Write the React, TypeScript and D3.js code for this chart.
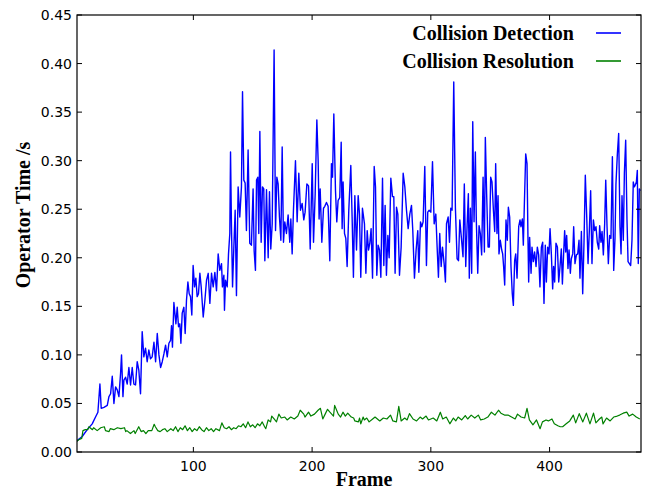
import React from 'react';
import * as d3 from 'd3';

// [frame, seconds]
const detection: [number, number][] = [
  [2, 0.011], [2.2, 0.012], [6.4, 0.016], [10.6, 0.023], [14.8, 0.029], [17.6, 0.036], [19.6, 0.041],
  [21.3, 0.07], [22.4, 0.045], [24.7, 0.046], [27.5, 0.048], [28.9, 0.057], [30.3, 0.06], [31.7, 0.078],
  [33.1, 0.05], [34.5, 0.067], [35.9, 0.064], [37.3, 0.057], [38.7, 0.081], [39.5, 0.1], [40.7, 0.057],
  [41.5, 0.074], [42.9, 0.077], [44.3, 0.07], [45.7, 0.087], [47.1, 0.069], [48.5, 0.087], [49.9, 0.07],
  [51.3, 0.069], [52.7, 0.093], [54.1, 0.084], [55.5, 0.06], [56.9, 0.124], [58.3, 0.098], [59.7, 0.107],
  [61.1, 0.093], [62.5, 0.105], [63.9, 0.096], [65.3, 0.098], [66.8, 0.113], [68.2, 0.093], [69.6, 0.122],
  [71, 0.1], [72.4, 0.087], [73.8, 0.093], [75.2, 0.101], [76.6, 0.11], [78, 0.098], [79.4, 0.112],
  [80.8, 0.115], [81.6, 0.13], [82.4, 0.108], [83.6, 0.154], [85.3, 0.132], [86.4, 0.149], [87.5, 0.129],
  [88.6, 0.132], [89.5, 0.112], [90.6, 0.143], [92, 0.149], [93.1, 0.122], [94.2, 0.156], [95.4, 0.175],
  [96.5, 0.163], [97.6, 0.16], [98.7, 0.141], [99.8, 0.192], [101, 0.17], [102.1, 0.179], [103.2, 0.16],
  [104.3, 0.163], [105.5, 0.184], [106.6, 0.17], [108.3, 0.139], [109.7, 0.156], [111.1, 0.177],
  [112.5, 0.184], [113.9, 0.153], [115.3, 0.184], [116.7, 0.17], [118.1, 0.185], [119.5, 0.166],
  [120.9, 0.204], [122.3, 0.187], [123.7, 0.194], [124.5, 0.17], [125.7, 0.182], [126.2, 0.146],
  [127.1, 0.177], [128.5, 0.17], [129.6, 0.204], [130.7, 0.225], [131.3, 0.309], [132.1, 0.232],
  [133, 0.17], [134.1, 0.211], [135.2, 0.249], [136.3, 0.161], [137.7, 0.273], [139.1, 0.242],
  [140.5, 0.273], [141.4, 0.371], [142.5, 0.28], [143.6, 0.277], [144.7, 0.228], [146.1, 0.311],
  [147.5, 0.215], [148.9, 0.213], [150.3, 0.271], [151.2, 0.207], [152.3, 0.187], [153.2, 0.28],
  [154.3, 0.283], [155.1, 0.225], [156, 0.33], [157.1, 0.216], [158.2, 0.273], [159.3, 0.271],
  [160.2, 0.197], [161.6, 0.27], [163, 0.2], [164.1, 0.268], [165.2, 0.209], [166.4, 0.235], [168, 0.414],
  [169.2, 0.228], [170.3, 0.283], [171.4, 0.276], [172.5, 0.242], [173.7, 0.218], [174.8, 0.314],
  [175.9, 0.216], [177, 0.237], [178.4, 0.225], [179.8, 0.244], [181.2, 0.216], [182.1, 0.24],
  [183.2, 0.204], [184.3, 0.249], [186, 0.3], [187.4, 0.237], [188.8, 0.287], [190.2, 0.249],
  [191.6, 0.256], [193, 0.239], [194.1, 0.247], [195.6, 0.276], [197, 0.274], [198.4, 0.209],
  [200.1, 0.297], [201.2, 0.216], [202.6, 0.266], [204, 0.342], [205.1, 0.3], [205.9, 0.24],
  [206.8, 0.271], [208.2, 0.216], [209.6, 0.251], [210.7, 0.253], [212.1, 0.257], [213.5, 0.253],
  [214.9, 0.197], [216.3, 0.297], [217.2, 0.283], [218.3, 0.348], [219.7, 0.269], [220.8, 0.237],
  [221.9, 0.259], [223.3, 0.262], [224.5, 0.319], [225.3, 0.23], [226.1, 0.278], [227.3, 0.225],
  [228.4, 0.22], [229.5, 0.191], [230.9, 0.249], [232.6, 0.295], [233.7, 0.242], [234.8, 0.18],
  [236, 0.264], [237.4, 0.208], [238.8, 0.264], [239.9, 0.245], [241, 0.18], [242.4, 0.251],
  [244.1, 0.235], [245.3, 0.184], [246.4, 0.228], [247.5, 0.208], [248.6, 0.215], [249.7, 0.23],
  [250.9, 0.179], [252.3, 0.294], [253.4, 0.273], [254.5, 0.182], [255.6, 0.213], [256.8, 0.208],
  [257.9, 0.18], [259.3, 0.282], [260.4, 0.192], [261.5, 0.254], [262.6, 0.182], [263.8, 0.223],
  [264.9, 0.2], [266.3, 0.282], [267.7, 0.263], [268.8, 0.263], [269.9, 0.184], [271.1, 0.252],
  [272.2, 0.245], [273.6, 0.182], [275, 0.211], [276.7, 0.287], [278.1, 0.273], [279.5, 0.249],
  [280.9, 0.23], [282.3, 0.245], [283.7, 0.254], [284.8, 0.228], [286.2, 0.179], [287.6, 0.208],
  [289, 0.228], [289.9, 0.185], [291.3, 0.237], [292.4, 0.232], [293.5, 0.237], [294.9, 0.294],
  [296.3, 0.192], [297.4, 0.247], [298.6, 0.249], [300, 0.247], [301.4, 0.299], [302.8, 0.235],
  [304.2, 0.245], [305.3, 0.211], [306.4, 0.18], [307.5, 0.225], [308.7, 0.191], [309.8, 0.211],
  [311.2, 0.194], [312.3, 0.175], [313.2, 0.235], [314.6, 0.242], [315.7, 0.216], [316.8, 0.251],
  [317.9, 0.249], [319.3, 0.381], [320.7, 0.251], [322.1, 0.199], [323.3, 0.197], [324.4, 0.239],
  [325.7, 0.221], [327.1, 0.201], [328.2, 0.276], [329.4, 0.191], [330.5, 0.232], [331.6, 0.266],
  [332.4, 0.179], [333.3, 0.251], [334.4, 0.184], [335.3, 0.34], [336.4, 0.237], [337.5, 0.309],
  [338.3, 0.239], [339.5, 0.184], [340.6, 0.233], [341.7, 0.225], [342.8, 0.203], [344, 0.283],
  [345.1, 0.206], [345.9, 0.324], [347, 0.266], [348.2, 0.211], [349.3, 0.211], [350.4, 0.283],
  [351.5, 0.278], [352.7, 0.249], [353.8, 0.227], [354.6, 0.297], [355.7, 0.225], [356.6, 0.264],
  [357.4, 0.204], [358.5, 0.218], [359.7, 0.208], [360.5, 0.204], [361.3, 0.191], [362.2, 0.172],
  [363.3, 0.239], [364.4, 0.218], [365.3, 0.252], [366.4, 0.242], [367.5, 0.191], [368.6, 0.163],
  [369.5, 0.151], [370.6, 0.197], [371.5, 0.204], [372.6, 0.179], [374, 0.232], [375.1, 0.239],
  [375.9, 0.232], [377.1, 0.24], [377.9, 0.213], [378.7, 0.252], [379.9, 0.307], [381, 0.297],
  [381.8, 0.221], [382.4, 0.175], [383.2, 0.221], [384.4, 0.184], [385.2, 0.211], [386.3, 0.196],
  [387.4, 0.206], [388.6, 0.191], [389.7, 0.211], [390.8, 0.203], [391.9, 0.17], [393.1, 0.211],
  [394.2, 0.216], [395.3, 0.153], [396.4, 0.213], [397.3, 0.175], [398.4, 0.211], [399.5, 0.204],
  [400.4, 0.23], [401.5, 0.204], [402.6, 0.168], [403.4, 0.191], [404.3, 0.175], [405.4, 0.215],
  [406.6, 0.211], [407.7, 0.175], [408.8, 0.191], [409.9, 0.209], [410.8, 0.173], [411.9, 0.206],
  [412.7, 0.228], [413.6, 0.206], [414.4, 0.223], [415.5, 0.189], [416.4, 0.208], [417.5, 0.184],
  [418.3, 0.199], [419.5, 0.204], [420.3, 0.232], [421.4, 0.194], [422.6, 0.203], [423.7, 0.204],
  [424.8, 0.218], [425.6, 0.179], [426.8, 0.227], [427.9, 0.163], [429, 0.216], [430.1, 0.285],
  [431.3, 0.242], [432.4, 0.194], [433.5, 0.228], [434.6, 0.269], [435.7, 0.194], [436.9, 0.239],
  [438, 0.228], [439.1, 0.232], [440.2, 0.216], [441.4, 0.209], [442.2, 0.233], [443.3, 0.216],
  [444.2, 0.227], [445.3, 0.203], [446.4, 0.235], [447.3, 0.28], [448.4, 0.232], [449.5, 0.194],
  [450.6, 0.223], [451.7, 0.22], [452.9, 0.304], [454, 0.187], [455.1, 0.22], [455.9, 0.276],
  [457.1, 0.307], [458.2, 0.328], [459.3, 0.232], [460.2, 0.204], [461, 0.264], [462.1, 0.218],
  [463, 0.287], [464.1, 0.321], [465.2, 0.239], [466.1, 0.196], [467.2, 0.194], [468.3, 0.192],
  [469.4, 0.218], [470.5, 0.278], [471.4, 0.273], [472.2, 0.275], [473.1, 0.278], [473.9, 0.29],
  [474.7, 0.194], [475.6, 0.271], [476.4, 0.269],
];

const resolution: [number, number][] = [
  [2, 0.011], [4, 0.013], [6, 0.014], [7, 0.022], [9, 0.023], [11, 0.023], [12, 0.026], [15, 0.023],
  [16, 0.025], [19, 0.022], [22, 0.025], [25, 0.026], [26, 0.022], [29, 0.021], [30, 0.024], [33, 0.023],
  [36, 0.025], [39, 0.024], [42, 0.025], [43, 0.021], [44, 0.022], [47, 0.019], [50, 0.022], [51, 0.019],
  [54, 0.026], [56, 0.021], [58, 0.022], [60, 0.019], [62, 0.022], [65, 0.022], [67, 0.0285], [68, 0.026],
  [70, 0.022], [72, 0.021], [74, 0.023], [76, 0.024], [78, 0.021], [81, 0.024], [83, 0.022], [85, 0.026],
  [87, 0.021], [89, 0.025], [91, 0.023], [93, 0.027], [95, 0.022], [97, 0.025], [99, 0.021], [101, 0.024],
  [103, 0.022], [105, 0.026], [107, 0.023], [109, 0.021], [111, 0.025], [113, 0.022], [115, 0.024],
  [117, 0.021], [119, 0.024], [122, 0.022], [124, 0.03], [126, 0.025], [128, 0.024], [130, 0.026],
  [132, 0.023], [134, 0.025], [136, 0.024], [138, 0.027], [140, 0.026], [142, 0.029], [144, 0.025],
  [146, 0.031], [148, 0.026], [150, 0.028], [152, 0.025], [154, 0.029], [156, 0.027], [158, 0.031],
  [160, 0.026], [161, 0.024], [163, 0.033], [165, 0.031], [166, 0.037], [168, 0.034], [170, 0.031],
  [172, 0.039], [174, 0.035], [177, 0.036], [179, 0.033], [182, 0.036], [185, 0.034], [188, 0.037],
  [190, 0.043], [193, 0.039], [194, 0.036], [197, 0.041], [199, 0.037], [202, 0.039], [205, 0.043],
  [207, 0.045], [209, 0.034], [211, 0.039], [213, 0.044], [215, 0.041], [218, 0.037], [219, 0.048],
  [221, 0.042], [222, 0.039], [224, 0.036], [226, 0.041], [228, 0.037], [230, 0.04], [233, 0.036],
  [235, 0.035], [236, 0.032], [239, 0.031], [240, 0.035], [241, 0.029], [243, 0.036], [244, 0.033],
  [246, 0.035], [248, 0.031], [251, 0.034], [253, 0.036], [257, 0.032], [260, 0.035], [263, 0.034],
  [266, 0.038], [268, 0.032], [271, 0.031], [273, 0.047], [275, 0.032], [278, 0.035], [280, 0.033],
  [282, 0.0395], [285, 0.034], [288, 0.032], [291, 0.036], [293, 0.034], [296, 0.037], [298, 0.033],
  [302, 0.035], [305, 0.032], [308, 0.041], [310, 0.034], [313, 0.036], [316, 0.029], [319, 0.035],
  [321, 0.032], [323, 0.036], [326, 0.033], [329, 0.0375], [331, 0.034], [334, 0.038], [337, 0.035],
  [340, 0.038], [342, 0.033], [345, 0.034], [348, 0.036], [351, 0.041], [354, 0.038], [357, 0.043],
  [359, 0.04], [362, 0.038], [365, 0.038], [368, 0.036], [371, 0.034], [373, 0.039], [376, 0.036],
  [379, 0.035], [381, 0.045], [383, 0.033], [386, 0.028], [389, 0.033], [392, 0.024], [394, 0.031],
  [397, 0.033], [399, 0.032], [402, 0.034], [404, 0.029], [407, 0.027], [409, 0.026], [411, 0.026],
  [414, 0.029], [417, 0.032], [420, 0.038], [422, 0.03], [425, 0.0395], [428, 0.031], [431, 0.04],
  [434, 0.029], [437, 0.04], [439, 0.03], [442, 0.034], [444, 0.036], [445, 0.029], [448, 0.035],
  [451, 0.032], [454, 0.036], [457, 0.037], [459, 0.038], [462, 0.04], [465, 0.041], [467, 0.037],
  [470, 0.039], [473, 0.036], [476, 0.034],
];

const xTicks = [100, 200, 300, 400];
const yTicks = [0, 0.05, 0.1, 0.15, 0.2, 0.25, 0.3, 0.35, 0.4, 0.45];
const legendItems = [
  { label: 'Collision Detection', color: '#0000ff' },
  { label: 'Collision Resolution', color: '#008000' },
];

export default function App() {
  const width = 647;
  const height = 489;
  const left = 77, right = 641, top = 15, bottom = 452;

  const x = d3.scaleLinear().domain([2, 477]).range([left, right]);
  const y = d3.scaleLinear().domain([0, 0.45]).range([bottom, top]);

  const line = d3.line<[number, number]>()
    .x(d => x(d[0]))
    .y(d => y(d[1]));

  const tickFont = "'DejaVu Sans', sans-serif";
  const labelFont = "'Liberation Serif', 'Times New Roman', serif";
  const tickLen = 5;

  return (
    <svg width={width} height={height} style={{ position: 'absolute', left: 0, top: 0, background: '#fff' }}>
      <defs>
        <clipPath id="plot-clip">
          <rect x={left} y={top} width={right - left} height={bottom - top} />
        </clipPath>
      </defs>
      <rect x={0} y={0} width={width} height={height} fill="#fff" />

      <g clipPath="url(#plot-clip)" fill="none" strokeLinejoin="round">
        <path d={line(detection) || ''} stroke="#0000ff" strokeWidth={1.4} />
        <path d={line(resolution) || ''} stroke="#008000" strokeWidth={1.2} />
      </g>

      {/* frame */}
      <rect x={left} y={top} width={right - left} height={bottom - top} fill="none" stroke="#000" strokeWidth={1.2} />

      {/* y ticks */}
      {yTicks.map(t => (
        <g key={'y' + t}>
          <line x1={left} x2={left + tickLen} y1={y(t)} y2={y(t)} stroke="#000" />
          <line x1={right} x2={right - tickLen} y1={y(t)} y2={y(t)} stroke="#000" />
          <text x={left - 5} y={y(t)} dy="0.36em" textAnchor="end" fontFamily={tickFont} fontSize={14} fill="#000">
            {d3.format('.2f')(t)}
          </text>
        </g>
      ))}

      {/* x ticks */}
      {xTicks.map(t => (
        <g key={'x' + t}>
          <line x1={x(t)} x2={x(t)} y1={bottom} y2={bottom - tickLen} stroke="#000" />
          <line x1={x(t)} x2={x(t)} y1={top} y2={top + tickLen} stroke="#000" />
          <text x={x(t)} y={471} textAnchor="middle" fontFamily={tickFont} fontSize={14} fill="#000">
            {t}
          </text>
        </g>
      ))}

      <text x={364} y={486} textAnchor="middle" fontFamily={labelFont} fontWeight="bold" fontSize={20} fill="#000">
        Frame
      </text>
      <text transform="translate(30,215) rotate(-90)" textAnchor="middle"
        fontFamily={labelFont} fontWeight="bold" fontSize={20} fill="#000">
        Operator Time /s
      </text>

      {/* legend */}
      {legendItems.map((item, i) => (
        <g key={item.label} transform={`translate(0,${40 + i * 28})`}>
          <text x={574} y={0} textAnchor="end" fontFamily={labelFont} fontWeight="bold" fontSize={20} fill="#000">
            {item.label}
          </text>
          <line x1={596} x2={621} y1={-7} y2={-7} stroke={item.color} strokeWidth={1.6} />
        </g>
      ))}
    </svg>
  );
}
